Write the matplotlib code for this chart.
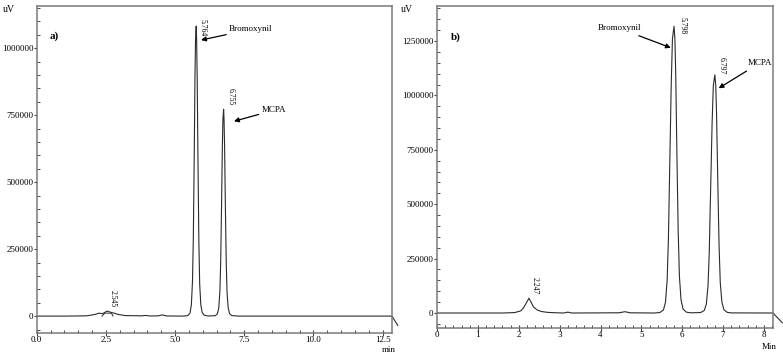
import matplotlib
matplotlib.use("Agg")
import matplotlib.pyplot as plt
from matplotlib.ticker import MultipleLocator, FormatStrFormatter

plt.rcParams['font.family'] = ['Liberation Serif', 'DejaVu Serif']

# ---- panel a) trace (min, uV)
time_a = [0.0, 1.0, 1.8, 2.1, 2.25, 2.38, 2.545, 2.68, 2.8, 2.95, 3.2, 3.8, 3.93, 4.1,
          4.4, 4.53, 4.7, 5.3, 5.46, 5.54, 5.59, 5.63, 5.66, 5.69, 5.72, 5.74, 5.764,
          5.78, 5.80, 5.83, 5.86, 5.89, 5.93, 5.98, 6.06, 6.2, 6.45, 6.53, 6.58, 6.62,
          6.65, 6.68, 6.71, 6.73, 6.755, 6.77, 6.79, 6.82, 6.85, 6.88, 6.92, 6.97, 7.05,
          7.3, 10.0, 12.84, 13.05]
signal_a = [0, 0, 1000, 6000, 11000, 9000, 19000, 14000, 11000, 6000, 2000, 1000, 2500, 500,
            1000, 4500, 500, 0, 2000, 11000, 43000, 130000, 290000, 570000, 890000, 1030000, 1082000,
            1030000, 890000, 560000, 280000, 120000, 43000, 13000, 3000, 500, 1500, 8000, 31000, 92000,
            205000, 410000, 635000, 735000, 772000, 735000, 635000, 400000, 200000, 86000, 31000, 9000, 2000,
            0, 0, 0, -35000]
# integration marker under the 2.545 peak
mark_a_t = [2.36, 2.46, 2.70, 2.76]
mark_a_v = [0, 11000, 11000, 0]

# ---- panel b) trace
time_b = [0.0, 1.6, 1.9, 2.05, 2.12, 2.18, 2.247, 2.30, 2.36, 2.45, 2.55, 2.7, 2.85, 3.1,
          3.2, 3.3, 4.45, 4.6, 4.72, 5.3, 5.45, 5.54, 5.59, 5.63, 5.66, 5.69, 5.73, 5.76,
          5.798, 5.82, 5.84, 5.87, 5.90, 5.93, 5.97, 6.02, 6.10, 6.2, 6.45, 6.54, 6.59,
          6.63, 6.66, 6.69, 6.73, 6.76, 6.797, 6.82, 6.84, 6.87, 6.90, 6.93, 6.97, 7.02,
          7.10, 7.2, 8.22, 8.45]
signal_b = [0, 0, 2000, 10000, 25000, 45000, 68000, 50000, 28000, 14000, 7000, 3000, 1500, 0,
            4000, 0, 1000, 6000, 1000, 0, 2000, 14000, 50000, 150000, 330000, 640000, 1050000, 1260000,
            1318000, 1260000, 1100000, 720000, 380000, 170000, 60000, 18000, 4000, 1000, 2000, 12000, 42000,
            125000, 275000, 530000, 870000, 1045000, 1095000, 1045000, 910000, 600000, 315000, 140000, 50000, 15000,
            3000, 500, 0, -45000]

peaks_a = [2.545, 5.764, 6.755]
heights_a = [19000, 1082000, 772000]
peaks_b = [2.247, 5.798, 6.797]
heights_b = [68000, 1318000, 1095000]

fig = plt.figure(figsize=(7.83, 3.55), dpi=100)
ax1 = fig.add_axes([0.0469, 0.062, 0.4537, 0.921])
ax2 = fig.add_axes([0.5582, 0.076, 0.4290, 0.907])

trace_kw = dict(color='#2b2b2b', lw=0.8, clip_on=False)


def style_axis(ax, xlim, ylim, xmaj, xmin, xfmt):
    ax.set_xlim(*xlim)
    ax.set_ylim(*ylim)
    ax.xaxis.set_major_locator(MultipleLocator(xmaj))
    ax.xaxis.set_minor_locator(MultipleLocator(xmin))
    ax.xaxis.set_major_formatter(FormatStrFormatter(xfmt))
    ax.yaxis.set_major_locator(MultipleLocator(250000))
    ax.yaxis.set_minor_locator(MultipleLocator(50000))
    ax.yaxis.set_major_formatter(FormatStrFormatter('%d'))
    for s in ax.spines.values():
        s.set_color('#7a7a7a')
        s.set_linewidth(1.1)
    ax.tick_params(which='major', direction='inout', length=4, width=0.8, color='#444444',
                   labelsize=6.5, pad=0.5)
    ax.tick_params(which='minor', direction='in', length=2, width=0.7, color='#444444')
    ax.tick_params(axis='y', which='major', direction='out', length=2, labelsize=6.5, pad=0.5)


# panel a
ax1.plot(time_a, signal_a, **trace_kw)
ax1.plot(mark_a_t, mark_a_v, color='#2b2b2b', lw=0.7)
style_axis(ax1, (0, 12.84), (-63000, 1157000), 2.5, 0.5, '%.1f')
ax1.text(0.45, 1045000, 'a)', fontsize=8, fontweight='bold', va='center')

offs_a = [(1, 3), (2, -7), (2, 3)]
for t, h, o in zip(peaks_a, heights_a, offs_a):
    ax1.annotate('%.3f' % t, (t, h), xytext=o, textcoords='offset points',
                 rotation=270, fontsize=5.5, ha='left', va='bottom')

ax1.annotate('Bromoxynil', xy=(5.94, 1030000), xytext=(6.95, 1070000), fontsize=6.5,
             va='center', ha='left',
             arrowprops=dict(arrowstyle='-|>', color='black', lw=0.9,
                             mutation_scale=7, shrinkA=0, shrinkB=0))
ax1.annotate('MCPA', xy=(7.13, 727000), xytext=(8.12, 768000), fontsize=6.5,
             va='center', ha='left',
             arrowprops=dict(arrowstyle='-|>', color='black', lw=0.9,
                             mutation_scale=7, shrinkA=0, shrinkB=0))

# panel b
ax2.plot(time_b, signal_b, **trace_kw)
style_axis(ax2, (0, 8.22), (-69000, 1411000), 1, 0.2, '%d')
ax2.text(0.35, 1270000, 'b)', fontsize=8, fontweight='bold', va='center')

offs_b = [(1, 3), (3, -6), (2, 0)]
for t, h, o in zip(peaks_b, heights_b, offs_b):
    ax2.annotate('%.3f' % t, (t, h), xytext=o, textcoords='offset points',
                 rotation=270, fontsize=5.5, ha='left', va='bottom')

ax2.annotate('Bromoxynil', xy=(5.72, 1219000), xytext=(5.0, 1308000), fontsize=6.5,
             va='center', ha='right',
             arrowprops=dict(arrowstyle='-|>', color='black', lw=0.9,
                             mutation_scale=7, shrinkA=1, shrinkB=0))
ax2.annotate('MCPA', xy=(6.89, 1033000), xytext=(7.6, 1150000), fontsize=6.5,
             va='center', ha='left',
             arrowprops=dict(arrowstyle='-|>', color='black', lw=0.9,
                             mutation_scale=7, shrinkA=2, shrinkB=0))

# unit labels
fig.text(0.003, 0.985, 'uV', fontsize=7, va='top')
fig.text(0.512, 0.985, 'uV', fontsize=7, va='top')
fig.text(0.488, 0.002, 'min', fontsize=6.5, va='bottom')
fig.text(0.973, 0.010, 'Min', fontsize=6.5, va='bottom')

fig.savefig('out.png', dpi=100)
